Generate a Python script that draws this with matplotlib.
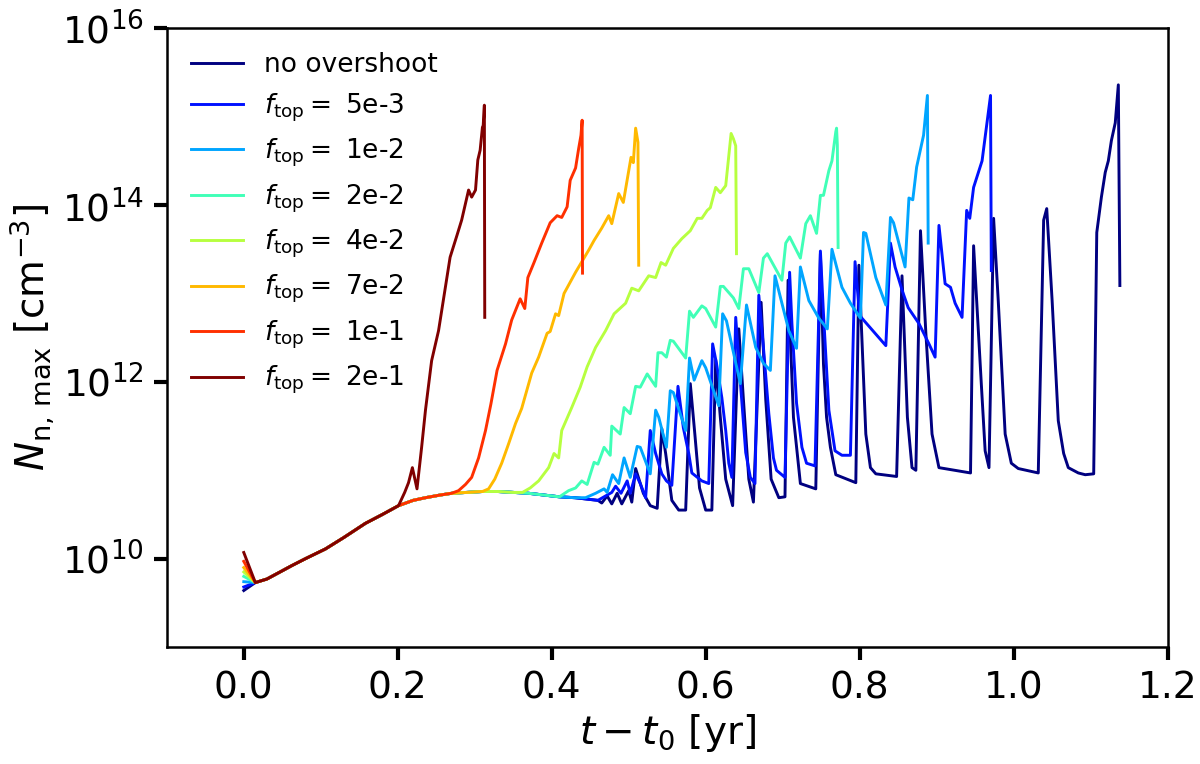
import matplotlib
matplotlib.use("Agg")
import matplotlib.pyplot as plt
import numpy as np

# shared early evolution (all runs lie on top of each other here), log10 N
t_base = [0.015, 0.03, 0.045, 0.062, 0.08, 0.106, 0.13, 0.158, 0.18, 0.201,
          0.22, 0.236, 0.255, 0.27, 0.29, 0.31, 0.33, 0.35, 0.37, 0.39,
          0.41, 0.43, 0.45, 0.46]
logN_base = [9.73, 9.77, 9.84, 9.92, 10.0, 10.11, 10.24, 10.40, 10.50, 10.60,
             10.66, 10.69, 10.72, 10.74, 10.75, 10.76, 10.76, 10.75, 10.74, 10.72,
             10.70, 10.69, 10.67, 10.66]

labels = ["no overshoot", r"$f_{\rm top} =$ 5e-3", r"$f_{\rm top} =$ 1e-2",
          r"$f_{\rm top} =$ 2e-2", r"$f_{\rm top} =$ 4e-2", r"$f_{\rm top} =$ 7e-2",
          r"$f_{\rm top} =$ 1e-1", r"$f_{\rm top} =$ 2e-1"]
logN_start = [9.64, 9.68, 9.74, 9.80, 9.85, 9.90, 9.97, 10.07]
t_split = [0.46, 0.46, 0.43, 0.41, 0.35, 0.31, 0.27, 0.201]

# no overshoot
t0 = [0.465, 0.472, 0.478, 0.485, 0.491, 0.500, 0.504, 0.509, 0.519, 0.528,
      0.537, 0.543, 0.548, 0.556, 0.565, 0.574, 0.580, 0.586, 0.592, 0.600,
      0.608, 0.613, 0.619, 0.626, 0.635, 0.643, 0.649, 0.656, 0.662, 0.672,
      0.678, 0.685, 0.695, 0.703, 0.707, 0.714, 0.723, 0.743, 0.749, 0.753,
      0.757, 0.762, 0.769, 0.795, 0.799, 0.808, 0.814, 0.821, 0.848, 0.855,
      0.862, 0.868, 0.873, 0.879, 0.886, 0.894, 0.903, 0.944, 0.948, 0.958,
      0.963, 0.968, 0.974, 0.980, 0.989, 0.997, 1.006, 1.032, 1.039, 1.043,
      1.050, 1.058, 1.065, 1.071, 1.084, 1.093, 1.104, 1.108, 1.114, 1.119,
      1.123, 1.127, 1.132, 1.136, 1.138]
n0 = [10.63, 10.71, 10.62, 10.74, 10.62, 10.77, 10.64, 11.02, 10.74, 10.60,
      10.57, 11.47, 11.19, 10.66, 10.55, 10.55, 11.98, 11.40, 10.80, 10.55,
      10.55, 12.25, 11.60, 10.90, 10.60, 12.60, 11.80, 10.90, 10.64, 12.90,
      11.80, 10.90, 10.69, 10.70, 13.15, 11.60, 10.85, 10.79, 13.45, 12.20,
      11.60, 11.26, 10.95, 10.86, 13.32, 11.41, 11.03, 10.96, 10.93, 13.20,
      11.60, 11.03, 11.00, 13.71, 12.55, 11.41, 11.03, 10.97, 13.54, 11.98,
      11.22, 11.03, 13.85, 12.92, 11.41, 11.08, 11.02, 10.97, 13.83, 13.96,
      12.92, 11.56, 11.19, 11.03, 10.97, 10.95, 10.96, 13.69, 14.09, 14.37,
      14.50, 14.73, 14.93, 15.36, 13.09]

# f_top = 5e-3
t1 = [0.478, 0.483, 0.490, 0.498, 0.502, 0.509, 0.515, 0.522, 0.528, 0.535,
      0.543, 0.549, 0.556, 0.564, 0.571, 0.578, 0.582, 0.595, 0.604, 0.609,
      0.614, 0.621, 0.626, 0.630, 0.634, 0.639, 0.645, 0.652, 0.658, 0.664,
      0.669, 0.675, 0.682, 0.688, 0.692, 0.703, 0.709, 0.712, 0.718, 0.725,
      0.731, 0.742, 0.749, 0.753, 0.760, 0.768, 0.777, 0.788, 0.794, 0.800,
      0.834, 0.840, 0.846, 0.855, 0.863, 0.877, 0.890, 0.898, 0.903, 0.911,
      0.918, 0.924, 0.933, 0.939, 0.943, 0.948, 0.959, 0.963, 0.970, 0.971]
n1 = [10.75, 10.82, 10.74, 10.88, 10.74, 10.96, 10.85, 10.69, 11.45, 11.19,
      10.96, 10.88, 10.83, 11.95, 11.48, 11.19, 10.97, 10.88, 10.85, 12.43,
      12.21, 11.82, 11.45, 11.08, 10.92, 12.73, 12.00, 11.20, 10.92, 10.85,
      12.98, 12.39, 11.64, 11.14, 11.00, 10.92, 13.24, 12.66, 11.76, 11.26,
      11.08, 11.05, 13.48, 12.77, 11.68, 11.22, 11.17, 11.17, 13.36, 12.75,
      12.41, 13.57, 13.30, 13.04, 12.84, 12.66, 12.43, 12.28, 13.77, 13.11,
      13.07, 12.89, 12.73, 13.94, 13.85, 14.20, 14.50, 14.77, 15.24, 13.26]

# f_top = 1e-2
t2 = [0.444, 0.457, 0.468, 0.472, 0.479, 0.487, 0.494, 0.502, 0.511, 0.515,
      0.528, 0.535, 0.539, 0.549, 0.554, 0.558, 0.574, 0.579, 0.585, 0.595,
      0.600, 0.617, 0.622, 0.627, 0.645, 0.653, 0.665, 0.675, 0.684, 0.690,
      0.699, 0.708, 0.718, 0.723, 0.734, 0.747, 0.758, 0.764, 0.777, 0.788,
      0.801, 0.805, 0.808, 0.821, 0.834, 0.840, 0.844, 0.859, 0.864, 0.869,
      0.874, 0.883, 0.888, 0.889]
n2 = [10.69, 10.74, 10.79, 10.75, 10.95, 10.85, 11.14, 10.92, 11.27, 11.26,
      10.96, 11.68, 11.60, 11.26, 11.90, 11.88, 11.45, 12.27, 12.02, 12.24,
      12.16, 11.73, 12.77, 12.69, 11.98, 12.87, 12.39, 12.21, 12.13, 13.20,
      12.89, 12.58, 12.38, 13.30, 12.92, 12.72, 12.60, 13.50, 13.07, 12.89,
      12.72, 13.69, 13.68, 13.18, 12.87, 13.86, 13.80, 13.30, 14.08, 14.06,
      14.43, 14.79, 15.24, 13.57]

# f_top = 2e-2
t3 = [0.422, 0.431, 0.439, 0.446, 0.455, 0.460, 0.468, 0.476, 0.478, 0.489,
      0.494, 0.502, 0.509, 0.515, 0.524, 0.535, 0.538, 0.543, 0.549, 0.554,
      0.558, 0.574, 0.579, 0.584, 0.595, 0.600, 0.613, 0.619, 0.623, 0.636,
      0.643, 0.649, 0.656, 0.669, 0.675, 0.680, 0.699, 0.704, 0.709, 0.723,
      0.730, 0.736, 0.744, 0.749, 0.753, 0.760, 0.764, 0.769, 0.770, 0.771,
      0.772]
n3 = [10.77, 10.80, 10.88, 10.84, 11.09, 11.07, 11.26, 11.17, 11.50, 11.41,
      11.71, 11.64, 11.95, 11.94, 12.09, 11.95, 12.33, 12.33, 12.28, 12.47,
      12.46, 12.27, 12.80, 12.73, 12.86, 12.83, 12.62, 13.08, 13.08, 12.95,
      12.83, 13.28, 13.28, 13.01, 13.40, 13.45, 13.15, 13.57, 13.64, 13.40,
      13.79, 13.88, 13.68, 14.11, 14.11, 14.39, 14.50, 14.83, 14.87, 14.68,
      13.52]

# f_top = 4e-2
t4 = [0.362, 0.372, 0.383, 0.396, 0.403, 0.409, 0.413, 0.426, 0.437, 0.446,
      0.457, 0.470, 0.481, 0.496, 0.504, 0.513, 0.526, 0.535, 0.542, 0.548,
      0.558, 0.569, 0.580, 0.589, 0.595, 0.602, 0.606, 0.613, 0.619, 0.626,
      0.633, 0.636, 0.639, 0.640]
n4 = [10.75, 10.80, 10.88, 11.03, 11.19, 11.14, 11.45, 11.71, 11.94, 12.17,
      12.39, 12.58, 12.77, 12.89, 13.06, 13.03, 13.20, 13.18, 13.35, 13.32,
      13.51, 13.62, 13.71, 13.85, 13.85, 13.94, 13.97, 14.20, 14.14, 14.22,
      14.81, 14.75, 14.67, 13.45]

# f_top = 7e-2
t5 = [0.318, 0.326, 0.335, 0.344, 0.353, 0.361, 0.374, 0.383, 0.394, 0.398,
      0.405, 0.409, 0.416, 0.431, 0.448, 0.455, 0.465, 0.474, 0.478, 0.487,
      0.493, 0.503, 0.506, 0.509, 0.512, 0.513]
n5 = [10.79, 10.90, 11.08, 11.30, 11.53, 11.70, 12.10, 12.28, 12.55, 12.57,
      12.77, 12.75, 13.00, 13.24, 13.49, 13.60, 13.74, 13.88, 13.79, 14.13,
      14.03, 14.54, 14.48, 14.87, 14.71, 13.32]

# f_top = 1e-1
t6 = [0.279, 0.288, 0.296, 0.305, 0.314, 0.321, 0.329, 0.340, 0.348, 0.359,
      0.365, 0.369, 0.377, 0.387, 0.398, 0.407, 0.413, 0.420, 0.424, 0.431,
      0.435, 0.438, 0.4395, 0.440]
n6 = [10.77, 10.84, 10.92, 11.14, 11.45, 11.75, 12.13, 12.43, 12.70, 12.94,
      12.83, 13.18, 13.35, 13.57, 13.80, 13.88, 13.86, 13.98, 14.28, 14.42,
      14.64, 14.79, 14.96, 13.23]

# f_top = 2e-1
t7 = [0.209, 0.214, 0.219, 0.225, 0.231, 0.236, 0.244, 0.253, 0.268, 0.277,
      0.283, 0.292, 0.296, 0.301, 0.304, 0.307, 0.310, 0.311, 0.3125, 0.313]
n7 = [10.75, 10.86, 11.03, 10.79, 11.26, 11.68, 12.24, 12.58, 13.41, 13.66,
      13.83, 14.17, 14.09, 14.17, 14.51, 14.62, 14.88, 14.90, 15.13, 12.73]

t_runs = [t0, t1, t2, t3, t4, t5, t6, t7]
n_runs = [n0, n1, n2, n3, n4, n5, n6, n7]

colors = plt.cm.jet(np.linspace(0, 1, len(labels)))

fig = plt.figure(figsize=(12, 7.64), dpi=100)
ax = fig.add_axes([0.139, 0.153, 0.834, 0.810])

tb = np.array(t_base)
nb = np.array(logN_base)
for i in range(len(labels)):
    keep = tb <= t_split[i]
    t = np.concatenate([[0.0], tb[keep], t_runs[i]])
    logn = np.concatenate([[logN_start[i]], nb[keep], n_runs[i]])
    ax.plot(t, 10**logn, color=colors[i], lw=2.1, label=labels[i])

ax.set_yscale("log")
ax.set_xlim(-0.1, 1.2)
ax.set_ylim(1e9, 1e16)
ax.set_yticks([1e10, 1e12, 1e14, 1e16])
ax.yaxis.set_minor_locator(matplotlib.ticker.NullLocator())
ax.set_xticks([0.0, 0.2, 0.4, 0.6, 0.8, 1.0, 1.2])

ax.tick_params(axis="both", which="major", labelsize=27, length=9.5,
               width=3, direction="out", pad=7)
for s in ax.spines.values():
    s.set_linewidth(1.8)

ax.set_xlabel(r"$t-t_0$ [yr]", fontsize=28)
ax.set_ylabel(r"$N_{\rm n,\,max}$ [cm$^{-3}$]", fontsize=28)

ax.legend(loc="upper left", frameon=False, fontsize=19,
          handlelength=2.0, handletextpad=0.8)

fig.savefig("out.png", dpi=100)
